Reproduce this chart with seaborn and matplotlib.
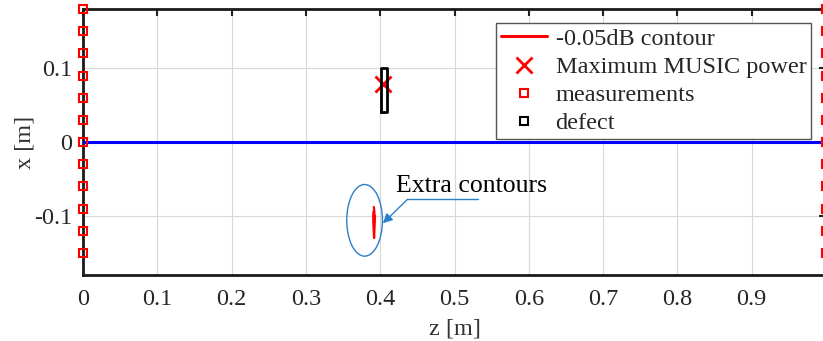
import numpy as np
import matplotlib
matplotlib.use("Agg")
import matplotlib.pyplot as plt
from matplotlib.patches import Ellipse
import seaborn as sns
import pandas as pd

# Sensor positions (x in m) on both ends of the plate (z = 0 and z = 1)
meas_x = [-0.15, -0.12, -0.09, -0.06, -0.03, 0.0, 0.03, 0.06, 0.09, 0.12, 0.15, 0.18]
meas_z_ends = [0.0, 1.0]

# Location of the MUSIC power maximum
max_z = [0.404]
max_x = [0.079]

# Defect outline (z, x corners)
defect_z = [0.401, 0.409, 0.409, 0.401, 0.401]
defect_x = [0.040, 0.040, 0.100, 0.100, 0.040]

# Spurious -0.05 dB contour (closed curve)
contour_z = [0.3915, 0.3925, 0.3930, 0.3925, 0.3922, 0.3918, 0.3912, 0.3908, 0.3905, 0.3910, 0.3915]
contour_x = [-0.088, -0.094, -0.100, -0.110, -0.120, -0.130, -0.120, -0.110, -0.100, -0.094, -0.088]

# Reference line along x = 0
line_z = [0.0, 1.0]
line_x = [0.0, 0.0]

xticks = [0.0, 0.1, 0.2, 0.3, 0.4, 0.5, 0.6, 0.7, 0.8, 0.9]
xticklabels = ["0", "0.1", "0.2", "0.3", "0.4", "0.5", "0.6", "0.7", "0.8", "0.9"]
yticks = [-0.1, 0.0, 0.1]
yticklabels = ["-0.1", "0", "0.1"]

sns.set_theme(style="whitegrid")
plt.rcParams["font.family"] = ["Liberation Serif", "DejaVu Serif"]

fig = plt.figure(figsize=(8.23, 3.41), dpi=100)
ax = fig.add_axes([83 / 823, 66 / 341, 743 / 823, 266 / 341])
ax.set_facecolor("white")

meas_df = pd.DataFrame(
    [(z, x) for z in meas_z_ends for x in meas_x], columns=["z", "x"]
)

sns.lineplot(x=line_z, y=line_x, ax=ax, color=(0, 0, 1), linewidth=2.2, zorder=3)

sns.lineplot(x=contour_z, y=contour_x, ax=ax, sort=False, color="red",
             linewidth=1.6, zorder=4)
ax.plot([], [], color="red", linewidth=2.2, label="-0.05dB contour")

ax.plot(max_z, max_x, linestyle="none", marker="x", color="red",
        markersize=11, markeredgewidth=2.0, zorder=5, label="Maximum MUSIC power")

ax.plot(meas_df["z"], meas_df["x"], linestyle="none", marker="s",
        markerfacecolor="none", markeredgecolor="red", markersize=5.5,
        markeredgewidth=1.5, zorder=6, clip_on=False, label="measurements")

ax.plot(defect_z, defect_x, color="black", linewidth=2.0, zorder=5)
ax.plot([], [], linestyle="none", marker="s", markerfacecolor="none",
        markeredgecolor="black", markersize=5.5, markeredgewidth=1.5,
        label="defect")

# Annotation for the spurious contours
blue = "#2a7fc9"
ax.add_patch(Ellipse((0.379, -0.106), 0.048, 0.097, fill=False,
                     edgecolor=blue, linewidth=1.0, zorder=4))
ax.plot([0.532, 0.437], [-0.0774, -0.0774], color=blue, linewidth=1.0, zorder=4)
ax.annotate("", xy=(0.4036, -0.110), xytext=(0.437, -0.0774),
            arrowprops=dict(arrowstyle="-|>", color=blue, lw=1.0,
                            mutation_scale=14, shrinkA=0, shrinkB=0), zorder=4)
ax.text(0.4216, -0.059, "Extra contours", fontsize=18.5, va="center", ha="left",
        color="black")

ax.set_xlim(0, 1.0)
ax.set_ylim(-0.18, 0.18)
ax.set_xticks(xticks)
ax.set_xticklabels(xticklabels)
ax.set_yticks(yticks)
ax.set_yticklabels(yticklabels)
ax.tick_params(axis="both", direction="in", length=5, width=1.5, color="#222222",
               labelsize=17.5, labelcolor="#262626", top=True, right=True)
ax.tick_params(axis="x", pad=10)
ax.tick_params(axis="y", pad=8)
ax.grid(True, color="#d8d8d8", linewidth=0.8)
for s in ax.spines.values():
    s.set_visible(True)
    s.set_color("#1a1a1a")
    s.set_linewidth(2.0)

ax.set_xlabel("z [m]", fontsize=17.5, color="#333333", labelpad=6)
ax.set_ylabel("x [m]", fontsize=17.5, color="#333333", labelpad=-1)

leg = ax.legend(loc="upper right", bbox_to_anchor=(0.98, 0.947),
                borderaxespad=0, fontsize=17.5, frameon=True, fancybox=False,
                handlelength=1.9, handletextpad=0.35, labelspacing=0.25,
                borderpad=0.2)
leg.get_frame().set_edgecolor("#555555")
leg.get_frame().set_linewidth(1.0)
leg.get_frame().set_alpha(1.0)

fig.savefig("out.png", dpi=100)
